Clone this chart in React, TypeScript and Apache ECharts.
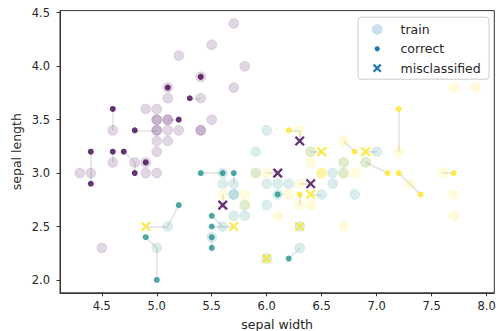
import React, { useEffect, useRef } from "react";
import * as echarts from "echarts";

type P = [number, number];

// training points by class (sepal length, sepal width)
const trainSetosa: P[] = [
  [5.7, 4.4], [5.5, 4.2], [5.2, 4.1], [5.8, 4.0], [5.4, 3.9], [5.1, 3.8], [5.7, 3.8],
  [5.1, 3.7], [5.4, 3.7], [4.9, 3.6], [5.0, 3.6], [5.0, 3.5], [5.0, 3.5], [5.1, 3.5],
  [5.1, 3.5], [5.5, 3.5], [4.6, 3.4], [5.0, 3.4], [5.0, 3.4], [5.1, 3.4], [5.2, 3.4],
  [5.4, 3.4], [5.4, 3.4], [5.0, 3.3], [5.1, 3.3], [5.0, 3.2], [4.6, 3.1], [4.8, 3.1],
  [4.9, 3.1], [4.3, 3.0], [4.4, 3.0], [4.9, 3.0], [5.0, 3.0], [4.5, 2.3],
];
const trainVersicolor: P[] = [
  [6.0, 3.4], [5.9, 3.2], [7.0, 3.2], [6.4, 3.2], [6.7, 3.1], [6.9, 3.1], [5.6, 3.0],
  [5.9, 3.0], [6.6, 3.0], [6.7, 3.0], [5.6, 2.9], [5.7, 2.9], [6.0, 2.9], [6.1, 2.9],
  [6.2, 2.9], [6.6, 2.9], [5.7, 2.8], [5.7, 2.8], [6.1, 2.8], [6.5, 2.8], [6.8, 2.8],
  [5.8, 2.7], [6.0, 2.7], [5.7, 2.6], [5.8, 2.6], [5.1, 2.5], [5.6, 2.5], [6.3, 2.5],
  [5.5, 2.4], [5.0, 2.3], [6.3, 2.3], [6.0, 2.2],
];
const trainVirginica: P[] = [
  [7.7, 3.8], [7.9, 3.8], [6.3, 3.4], [6.7, 3.3], [7.2, 3.2], [6.4, 3.2], [6.4, 3.1],
  [6.7, 3.1], [6.9, 3.1], [5.9, 3.0], [6.0, 3.0], [6.5, 3.0], [6.5, 3.0], [6.5, 3.0],
  [6.7, 3.0], [6.8, 3.0], [7.6, 3.0], [6.3, 2.9], [7.3, 2.9], [5.6, 2.8], [5.8, 2.8],
  [6.2, 2.8], [7.7, 2.8], [5.8, 2.7], [6.3, 2.7], [6.4, 2.7], [6.1, 2.6], [7.7, 2.6],
  [6.7, 2.5],
];

// correctly classified test points
const correctSetosa: P[] = [
  [5.4, 3.9], [5.1, 3.8], [5.3, 3.7], [4.6, 3.6], [5.2, 3.5], [4.8, 3.4], [4.4, 3.2],
  [4.6, 3.2], [4.7, 3.2], [4.9, 3.1], [4.8, 3.0], [4.4, 2.9],
];
const correctVersicolor: P[] = [
  [5.4, 3.0], [5.6, 3.0], [5.7, 3.0], [6.1, 2.8], [5.2, 2.7], [5.5, 2.6], [5.5, 2.5],
  [5.5, 2.4], [5.5, 2.3], [4.9, 2.4], [6.2, 2.2], [5.0, 2.0],
];
const correctVirginica: P[] = [
  [6.2, 3.4], [6.8, 3.2], [7.2, 3.6], [7.1, 3.0], [7.2, 3.0], [7.4, 2.8], [7.7, 3.0],
  [6.3, 2.8],
];

// misclassified test points
const missPurple: P[] = [[6.3, 3.3], [6.1, 3.0], [6.4, 2.9], [5.6, 2.7]];
const missYellow: P[] = [
  [6.5, 3.2], [6.9, 3.2], [6.4, 2.8], [5.7, 2.5], [6.3, 2.5], [6.0, 2.2], [4.9, 2.5],
];

// test point -> nearest training neighbour
const neighborLinks: [number, number, number, number][] = [
  [5.3, 3.7, 5.4, 3.7], [4.6, 3.6, 4.6, 3.4], [5.2, 3.5, 5.1, 3.5], [4.8, 3.4, 5.0, 3.4],
  [4.4, 3.2, 4.4, 3.0], [4.4, 2.9, 4.4, 3.0], [4.6, 3.2, 4.6, 3.1], [4.7, 3.2, 4.8, 3.1],
  [4.8, 3.0, 4.8, 3.1],
  [5.4, 3.0, 5.6, 3.0], [5.7, 3.0, 5.7, 2.9], [5.2, 2.7, 5.1, 2.5], [4.9, 2.4, 5.0, 2.3],
  [5.0, 2.0, 5.0, 2.3], [5.5, 2.6, 5.6, 2.5], [5.5, 2.5, 5.6, 2.5], [5.5, 2.3, 5.5, 2.4],
  [6.2, 2.2, 6.3, 2.3],
  [6.2, 3.4, 6.3, 3.4], [6.8, 3.2, 6.7, 3.3], [7.2, 3.6, 7.2, 3.2], [7.1, 3.0, 6.9, 3.1],
  [7.2, 3.0, 7.3, 2.9], [7.4, 2.8, 7.3, 2.9], [7.7, 3.0, 7.6, 3.0], [6.3, 2.8, 6.3, 2.7],
  [6.3, 3.3, 6.3, 3.4], [6.5, 3.2, 6.4, 3.2], [6.9, 3.2, 7.0, 3.2], [6.1, 3.0, 6.0, 3.0],
  [6.4, 2.9, 6.3, 2.9], [6.4, 2.8, 6.5, 2.8], [5.6, 2.7, 5.6, 2.8], [4.9, 2.5, 5.1, 2.5],
  [5.7, 2.5, 5.6, 2.5],
];

const xTicks = [4.5, 5.0, 5.5, 6.0, 6.5, 7.0, 7.5, 8.0];
const yTicks = [2.0, 2.5, 3.0, 3.5, 4.0, 4.5];

const PURPLE = "#440154";
const TEAL = "#21918c";
const YELLOW = "#fde725";
const FONT = "DejaVu Sans";
const XPATH = "path://M0,0L10,10M10,0L0,10";

function hexA(hex: string, a: number) {
  const r = parseInt(hex.slice(1, 3), 16);
  const g = parseInt(hex.slice(3, 5), 16);
  const b = parseInt(hex.slice(5, 7), 16);
  return `rgba(${r},${g},${b},${a})`;
}

export default function App() {
  const ref = useRef<HTMLDivElement>(null);
  useEffect(() => {
    if (!ref.current) return;
    const chart = echarts.init(ref.current, null, { renderer: "svg" });
    const trainSeries = (data: P[], c: string) => ({
      type: "scatter",
      name: "train",
      data,
      symbol: "circle",
      symbolSize: 10,
      itemStyle: { color: hexA(c, 0.2), borderColor: hexA(c, 0.12), borderWidth: 1 },
      silent: true,
    });
    const dotSeries = (data: P[], c: string) => ({
      type: "scatter",
      name: "correct",
      data,
      symbol: "circle",
      symbolSize: 6,
      itemStyle: { color: c },
      silent: true,
    });
    const xSeries = (data: P[], c: string) => ({
      type: "scatter",
      name: "misclassified",
      data,
      symbol: XPATH,
      symbolSize: 8.5,
      itemStyle: { color: "none", borderColor: c, borderWidth: 2.4 },
      silent: true,
    });
    const axisText = { fontFamily: FONT, fontSize: 11.5, color: "#262626" };
    const option: any = {
      animation: false,
      grid: {
        left: 60,
        right: 3.7,
        top: 10.6,
        bottom: 38.2,
        show: true,
        borderColor: "#333",
        borderWidth: 1,
        containLabel: false,
        outerBoundsMode: "none",
      },
      xAxis: {
        type: "value",
        min: 4.12,
        max: 8.07,
        splitLine: { show: false },
        axisLine: { show: true, lineStyle: { color: "#333", width: 1 } },
        axisTick: { show: true, length: 3.5, customValues: xTicks, lineStyle: { color: "#333" } },
        axisLabel: {
          ...axisText,
          customValues: xTicks,
          margin: 7,
          formatter: (v: number) => v.toFixed(1),
        },
        name: "sepal width",
        nameLocation: "middle",
        nameGap: 25,
        nameMoveOverlap: false,
        nameTextStyle: { fontFamily: FONT, fontSize: 12.5, color: "#262626" },
      },
      yAxis: {
        type: "value",
        min: 1.88,
        max: 4.52,
        splitLine: { show: false },
        axisLine: { show: true, lineStyle: { color: "#333", width: 1 } },
        axisTick: { show: true, length: 3.5, customValues: yTicks, lineStyle: { color: "#333" } },
        axisLabel: {
          ...axisText,
          customValues: yTicks,
          margin: 10,
          formatter: (v: number) => v.toFixed(1),
        },
        name: "sepal length",
        nameLocation: "middle",
        nameGap: 37,
        nameMoveOverlap: false,
        nameTextStyle: { fontFamily: FONT, fontSize: 12.5, color: "#262626" },
      },
      series: [
        trainSeries(trainSetosa, PURPLE),
        trainSeries(trainVersicolor, TEAL),
        trainSeries(trainVirginica, YELLOW),
        {
          type: "lines",
          coordinateSystem: "cartesian2d",
          silent: true,
          data: neighborLinks.map((l) => ({ coords: [[l[0], l[1]], [l[2], l[3]]] })),
          lineStyle: { color: "#8c8c8c", opacity: 0.2, width: 2 },
        },
        dotSeries(correctSetosa, PURPLE),
        dotSeries(correctVersicolor, TEAL),
        dotSeries(correctVirginica, YELLOW),
        xSeries(missPurple, PURPLE),
        xSeries(missYellow, YELLOW),
      ],
      graphic: [
        {
          type: "group",
          left: 357.5,
          top: 16.7,
          children: [
            {
              type: "rect",
              shape: { x: 0, y: 0, width: 131, height: 62, r: 3 },
              style: { fill: "rgba(255,255,255,0.8)", stroke: "#cccccc", lineWidth: 1 },
            },
            {
              type: "circle",
              shape: { cx: 19.2, cy: 12.3, r: 5 },
              style: { fill: "rgba(31,119,180,0.22)", stroke: "rgba(31,119,180,0.12)", lineWidth: 1 },
            },
            {
              type: "circle",
              shape: { cx: 19.2, cy: 31.6, r: 2.6 },
              style: { fill: "#1f77b4" },
            },
            {
              type: "line",
              shape: { x1: 15.6, y1: 47.4, x2: 22.8, y2: 54.6 },
              style: { stroke: "#1f77b4", lineWidth: 2.2 },
            },
            {
              type: "line",
              shape: { x1: 22.8, y1: 47.4, x2: 15.6, y2: 54.6 },
              style: { stroke: "#1f77b4", lineWidth: 2.2 },
            },
            {
              type: "text",
              x: 42.5,
              y: 12.3,
              style: { text: "train", fontFamily: FONT, fontSize: 12.5, fill: "#262626", verticalAlign: "middle" },
            },
            {
              type: "text",
              x: 42.5,
              y: 31.6,
              style: { text: "correct", fontFamily: FONT, fontSize: 12.5, fill: "#262626", verticalAlign: "middle" },
            },
            {
              type: "text",
              x: 42.5,
              y: 51,
              style: { text: "misclassified", fontFamily: FONT, fontSize: 12.5, fill: "#262626", verticalAlign: "middle" },
            },
          ],
        },
      ],
    };
    chart.setOption(option);
    return () => chart.dispose();
  }, []);
  return (
    <div
      ref={ref}
      style={{ position: "absolute", left: 0, top: 0, width: 498, height: 331, background: "#fff" }}
    />
  );
}
